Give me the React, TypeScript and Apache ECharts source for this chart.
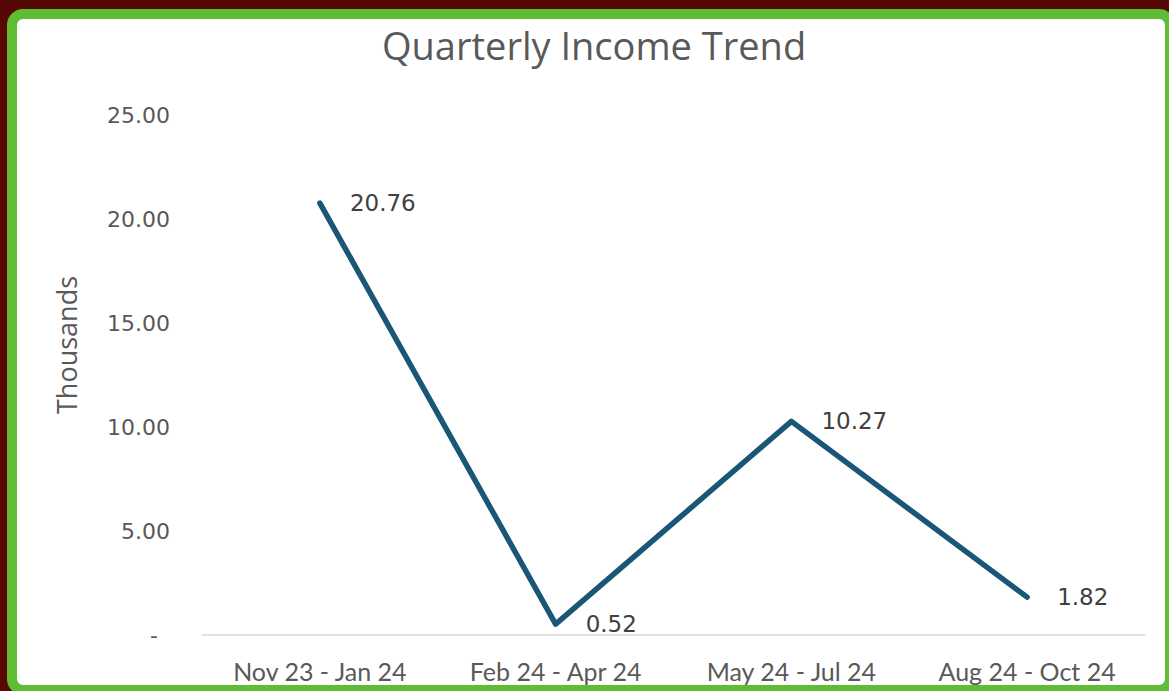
import React, { useEffect, useRef } from "react";
import * as echarts from "echarts";

const categories = ["Nov 23 - Jan 24", "Feb 24 - Apr 24", "May 24 - Jul 24", "Aug 24 - Oct 24"];
const incomeThousands = [20.76, 0.52, 10.27, 1.82];
const yTicks = { min: 0, max: 25, interval: 5 };
const titleText = "Quarterly Income Trend";
const yAxisTitle = "Thousands";

export default function App() {
  const ref = useRef<HTMLDivElement>(null);
  useEffect(() => {
    document.body.style.margin = "0";
    if (!ref.current) return;
    const chart = echarts.init(ref.current, null, { renderer: "svg" });
    chart.setOption({
      animation: false,
      backgroundColor: "transparent",
      title: {
        text: titleText,
        left: 377,
        top: 21,
        textStyle: { fontFamily: "Open Sans", fontSize: 38, fontWeight: "normal", color: "#595959" },
      },
      graphic: [
        {
          type: "text",
          x: 66,
          y: 345,
          rotation: Math.PI / 2,
          style: {
            text: yAxisTitle,
            fontFamily: "Open Sans",
            fontSize: 27,
            fill: "#595959",
            textAlign: "center",
            textVerticalAlign: "middle",
          },
        },
      ],
      grid: { left: 202, right: 24, top: 115, bottom: 56, containLabel: false },
      xAxis: {
        type: "category",
        data: categories,
        boundaryGap: true,
        axisLine: { show: true, lineStyle: { color: "#d9d9d9", width: 1.5 } },
        axisTick: { show: false },
        axisLabel: { margin: 23, fontFamily: "Lato", fontSize: 25, color: "#595959" },
      },
      yAxis: {
        type: "value",
        min: yTicks.min,
        max: yTicks.max,
        interval: yTicks.interval,
        axisLine: { show: false },
        axisTick: { show: false },
        splitLine: { show: false },
        axisLabel: {
          margin: 32,
          fontFamily: "DejaVu Sans",
          fontSize: 22,
          color: "#595959",
          formatter: (v: number) => (v === 0 ? "{z|-}" : v.toFixed(2)),
          rich: {
            z: { fontFamily: "DejaVu Sans", fontSize: 22, color: "#595959", padding: [0, 12, 0, 0] },
          },
        },
      },
      series: [
        {
          type: "line",
          data: incomeThousands,
          symbol: "circle",
          symbolSize: 2,
          showSymbol: true,
          itemStyle: { color: "#1a5676" },
          lineStyle: { color: "#1a5676", width: 5.5, cap: "round", join: "round" },
          label: {
            show: true,
            position: "right",
            distance: 29,
            fontFamily: "DejaVu Sans",
            fontSize: 23,
            color: "#404040",
            formatter: (p: any) => Number(p.value).toFixed(2),
          },
        },
      ],
    });
    return () => chart.dispose();
  }, []);

  return (
    <div style={{ position: "fixed", left: 0, top: 0, width: 1169, height: 691, background: "#560805", overflow: "hidden" }}>
      <div
        style={{
          position: "absolute",
          left: 7,
          top: 9,
          width: 1169 - 7 + 6 - 20,
          height: 691 - 9 + 4 - 20,
          border: "10px solid #5fbd33",
          borderRadius: 16,
          background: "#ffffff",
        }}
      />
      <div ref={ref} style={{ position: "absolute", left: 0, top: 0, width: 1169, height: 691 }} />
    </div>
  );
}
